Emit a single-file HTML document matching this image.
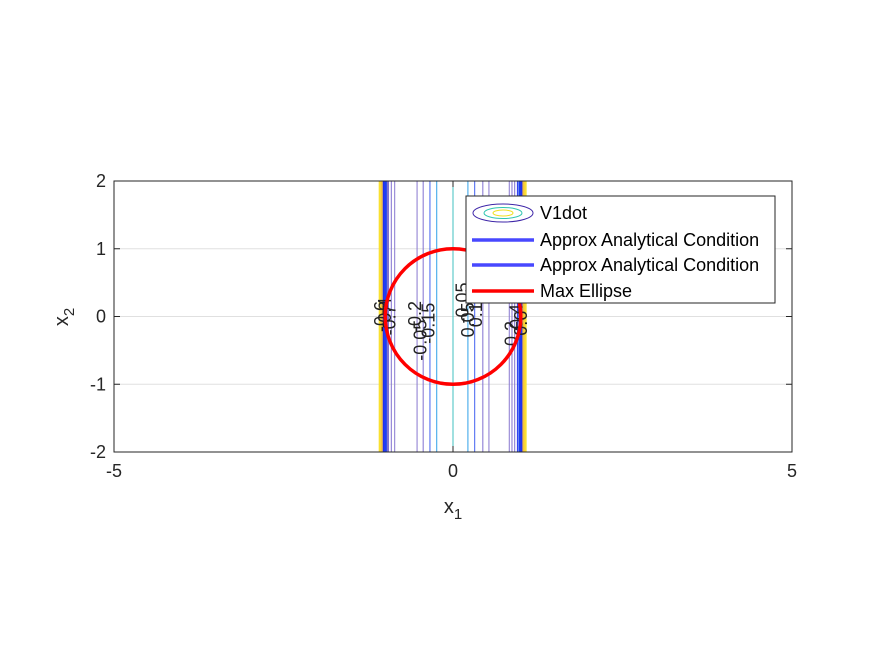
<!DOCTYPE html>
<html><head><meta charset="utf-8"><style>
body{margin:0;background:#fff;width:875px;height:656px;overflow:hidden;font-family:"Liberation Sans",sans-serif}
</style></head><body>
<svg width="875" height="656" font-family="Liberation Sans, sans-serif">
<rect width="875" height="656" fill="#fff"/>
<g id="grid"></g>
<g id="contours"></g>
<g id="labels"></g>
<circle id="ellipse" fill="none" stroke="#f00" stroke-width="3.5"/>
<rect x="114" y="181" width="678" height="271" fill="none" stroke="#262626" stroke-width="1"/>
<g id="ticks" font-size="18" fill="#262626"></g>
<text x="453" y="513" font-size="20" text-anchor="middle" fill="#262626">x<tspan font-size="15" dy="6">1</tspan></text>
<text transform="translate(68,317) rotate(-90)" font-size="20" text-anchor="middle" fill="#262626">x<tspan font-size="15" dy="6">2</tspan></text>
<g>
<rect x="466" y="196" width="309" height="107" fill="#fff" stroke="#262626" stroke-width="1"/>
<g>
<ellipse cx="503" cy="213" rx="30" ry="9" fill="none" stroke="#3e26a8" stroke-width="1"/>
<ellipse cx="503" cy="213" rx="19" ry="5.5" fill="none" stroke="#2ec5b0" stroke-width="1"/>
<ellipse cx="503" cy="213" rx="10" ry="3" fill="none" stroke="#f0e020" stroke-width="1"/>
<text x="540" y="219" font-size="18" fill="#000">V1dot</text></g>
<g>
<line x1="472" y1="240" x2="534" y2="240" stroke="#4848ff" stroke-width="3.5"/>
<text x="540" y="246" font-size="18" fill="#000">Approx Analytical Condition</text></g>
<g>
<line x1="472" y1="265" x2="534" y2="265" stroke="#4848ff" stroke-width="3.5"/>
<text x="540" y="271" font-size="18" fill="#000">Approx Analytical Condition</text></g>
<g>
<line x1="472" y1="291" x2="534" y2="291" stroke="#f00" stroke-width="3.5"/>
<text x="540" y="297" font-size="18" fill="#000">Max Ellipse</text></g>
</g>
</svg>
<script>
const xTicks=[-5,0,5];
const yTicks=[-2,-1,0,1,2];
const contourX=[-1.08,-1.05,-1.02,-0.99,-0.96,-0.91,-0.86,-0.53,-0.44,-0.34,-0.24,0,0.22,0.32,0.44,0.53,0.83,0.87,0.91,0.95,0.98,1.01,1.04,1.07];
const contourColor=["#f9e030","#f5c040","#2030f0","#1a40f0","#8070d0","#8070d0","#8878d0","#8878d0","#8070d0","#4060f0","#30a0e8","#40c0c0","#30a0e8","#4060f0","#8070d0","#8878d0","#8878d0","#8070d0","#8070d0","#2030f0","#1a40f0","#2030f0","#f5c040","#f9e030"];
const labelX=[-1.06,-1.0,-0.94,-0.56,-0.48,-0.36,0.14,0.22,0.34,0.86,0.94,1.0];
const labelY=[0,0.05,-0.05,0,-0.35,-0.1,0.2,-0.05,0.1,-0.25,0,-0.1];
const labelText=["-0.6","-0.4","-0.7","-0.2","-0.05","-0.15","-0.05","0.05","0.15","0.2","0.4","0.6"];
const ellipseR=1;
const X0=114,X1=792,Y0=181,Y1=452;
const sx=v=>X0+(v+5)/10*(X1-X0);
const sy=v=>Y1-(v+2)/4*(Y1-Y0);
const NS="http://www.w3.org/2000/svg";
const mk=(t,a,p)=>{const e=document.createElementNS(NS,t);for(const k in a)e.setAttribute(k,a[k]);p.appendChild(e);return e;};
const grid=document.getElementById('grid'),ticks=document.getElementById('ticks'),cont=document.getElementById('contours'),lab=document.getElementById('labels');
yTicks.forEach(v=>{
 if(v>-2&&v<2){const g=mk('line',{x1:X0,x2:X1,y1:sy(v),y2:sy(v),stroke:'#e0e0e0'},grid);
 
 }
 mk('line',{x1:X0,x2:X0+6,y1:sy(v),y2:sy(v),stroke:'#262626'},ticks);
 mk('line',{x1:X1,x2:X1-6,y1:sy(v),y2:sy(v),stroke:'#262626'},ticks);
 const t=mk('text',{x:X0-8,y:sy(v)+6,'text-anchor':'end'},ticks);t.textContent=v;
 
 
});
xTicks.forEach(v=>{
 mk('line',{x1:sx(v),x2:sx(v),y1:Y1,y2:Y1-6,stroke:'#262626'},ticks);
 mk('line',{x1:sx(v),x2:sx(v),y1:Y0,y2:Y0+6,stroke:'#262626'},ticks);
 const t=mk('text',{x:sx(v),y:Y1+25,'text-anchor':'middle'},ticks);t.textContent=v;
 
 
});
contourX.forEach((v,i)=>{
 const l=mk('line',{x1:sx(v),x2:sx(v),y1:Y0,y2:Y1,stroke:contourColor[i],'stroke-width':(Math.abs(v)>0.95?2.2:1)},cont);
 
 
});
labelX.forEach((v,i)=>{
 const t=mk('text',{transform:`translate(${sx(v)+6},${sy(labelY[i])}) rotate(-90)`,'font-size':18,'text-anchor':'middle',fill:'#222'},lab);
 t.textContent=labelText[i];
 
 
});
const c=document.getElementById('ellipse');
c.setAttribute('cx',sx(0));c.setAttribute('cy',sy(0));c.setAttribute('r',sx(ellipseR)-sx(0));
</script>
</body></html>
